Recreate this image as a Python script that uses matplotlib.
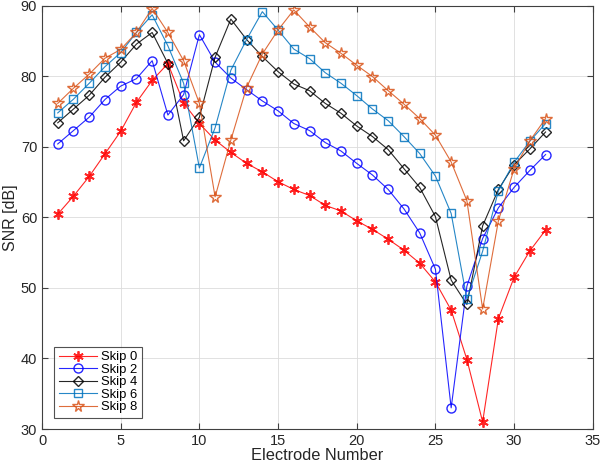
import matplotlib
matplotlib.use("Agg")
import matplotlib.pyplot as plt
import numpy as np

plt.rcParams['font.family'] = ['Liberation Sans', 'DejaVu Sans']

electrodes = list(range(1, 33))
skip0 = [60.45, 63.0, 65.8, 69.0, 72.2, 76.3, 79.4, 81.8, 76.2, 73.3, 70.95, 69.2,
         67.65, 66.45, 65.05, 63.95, 63.1, 61.7, 60.9, 59.5, 58.3, 56.9, 55.35, 53.5,
         50.85, 46.85, 39.85, 31.0, 45.65, 51.5, 55.25, 58.2]
skip2 = [70.4, 72.3, 74.2, 76.7, 78.6, 79.65, 82.2, 74.5, 77.4, 85.9, 82.0, 79.75,
         78.1, 76.5, 75.1, 73.3, 72.3, 70.6, 69.4, 67.65, 66.0, 63.95, 61.2, 57.8,
         52.65, 33.0, 50.25, 57.0, 61.35, 64.25, 66.65, 68.9]
skip4 = [73.4, 75.35, 77.3, 79.85, 82.0, 84.55, 86.2, 81.8, 70.85, 74.2, 82.7, 88.1,
         85.2, 82.8, 80.65, 78.9, 77.95, 76.15, 74.75, 72.95, 71.45, 69.6, 66.9, 64.25,
         60.1, 51.1, 47.65, 58.8, 63.95, 67.45, 69.7, 72.1]
skip6 = [74.8, 76.75, 79.0, 81.35, 83.35, 86.2, 88.7, 84.3, 79.0, 67.0, 72.7, 80.85,
         85.2, 89.15, 86.55, 83.85, 82.5, 80.5, 79.0, 77.25, 75.35, 73.7, 71.45, 69.05,
         65.85, 60.55, 48.4, 55.2, 63.75, 67.8, 70.8, 73.3]
skip8 = [76.15, 78.3, 80.3, 82.55, 83.8, 86.2, 89.6, 86.2, 82.2, 76.15, 62.9, 70.95,
         78.4, 83.15, 86.55, 89.4, 87.0, 84.75, 83.25, 81.55, 79.95, 77.95, 76.05, 74.0,
         71.65, 67.85, 62.35, 47.0, 59.5, 66.9, 70.85, 74.0]
labels = ['Skip 0', 'Skip 2', 'Skip 4', 'Skip 6', 'Skip 8']
xticks = [0, 5, 10, 15, 20, 25, 30, 35]
yticks = [30, 40, 50, 60, 70, 80, 90]

fig = plt.figure(figsize=(6.0, 4.62), dpi=100)
ax = fig.add_axes([0.07, 0.0714, 0.918, 0.9163])

styles = [
    dict(color='#FF0000', marker=(6, 2, 0), mfc='#FF0000', ms=7.5, mew=1.3),
    dict(color='#0000FF', marker='o', mfc='none', ms=6.5, mew=1.0),
    dict(color='#000000', marker='D', mfc='none', ms=5.5, mew=1.0),
    dict(color='#0072BD', marker='s', mfc='none', ms=5.3, mew=1.0),
    dict(color='#D95319', marker='*', mfc='none', ms=8.5, mew=1.0),
]
series = [skip0, skip2, skip4, skip6, skip8]
for ys, st, lab in zip(series, styles, labels):
    ax.plot(electrodes, ys, color=st['color'], lw=0.8, alpha=0.85, marker=st['marker'],
            mfc=st['mfc'], mec=st['color'], ms=st['ms'], mew=st['mew'], label=lab)

ax.set_xlim(0, 35)
ax.set_ylim(30, 90)
ax.set_xticks(xticks)
ax.set_yticks(yticks)
ax.grid(True, color='#DCDCDC', lw=0.6)
ax.set_axisbelow(True)
ax.tick_params(direction='in', length=4, labelsize=10.5, top=True, right=True,
               color='#404040', labelcolor='#262626')
for s in ax.spines.values():
    s.set_color('#404040')
    s.set_linewidth(0.8)
ax.set_xlabel('Electrode Number', fontsize=11.8, color='#262626', labelpad=0)
ax.set_ylabel('SNR [dB]', fontsize=11.5, color='#262626', labelpad=2)
leg = ax.legend(loc='lower left', bbox_to_anchor=(0.022, 0.026), borderaxespad=0,
                fontsize=9.4, frameon=True, fancybox=False, edgecolor='#262626',
                handlelength=2.9, borderpad=0.35, labelspacing=0.03, handletextpad=0.35)
leg.get_frame().set_linewidth(0.8)

fig.savefig('out.png', dpi=100)
